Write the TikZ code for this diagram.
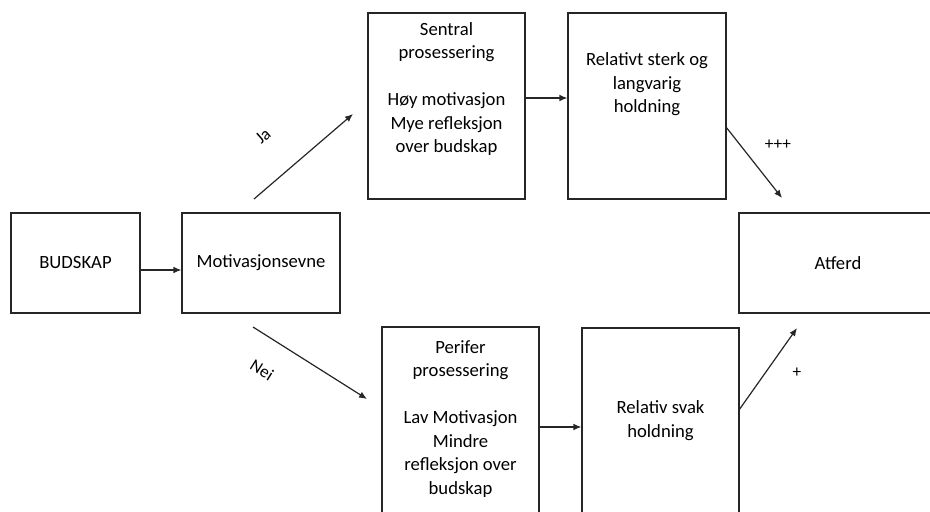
\documentclass[tikz,border=0pt]{standalone}
\usepackage{fontspec}
\setmainfont{Carlito}
\usetikzlibrary{arrows.meta}
\tikzset{
  box/.style={draw=black!85, line width=0.9pt, fill=none, inner sep=0pt},
  txt/.style={align=center, inner sep=0pt, font=\fontsize{14}{17.6}\selectfont},
  lbl/.style={inner sep=0pt, font=\fontsize{13}{15}\selectfont},
  arr/.style={draw=black!85, line width=0.9pt, -{Latex[length=6pt,width=5pt]}},
}

\begin{document}
\begin{tikzpicture}[x=0.75pt, y=-0.75pt]
\useasboundingbox (0,0) rectangle (930,511);
\clip (0,0) rectangle (930,511);
% boxes
\node[box, minimum width=96.75pt, minimum height=75pt] (budskap) at (75.5,263) {};
\node[txt] (budskaptxt) at (75.5,263) {BUDSKAP};
\node[box, minimum width=118.5pt, minimum height=75pt] (motiv) at (261,263) {};
\node[txt] (motivtxt) at (261,263) {Motivasjonsevne};
\node[box, minimum width=117.75pt, minimum height=139.5pt] (sentral) at (446.5,106) {};
\node[txt] (sentraltxt) at (446.5,89) {Sentral\\prosessering\\[17.6pt]H\o y motivasjon\\Mye refleksjon\\over budskap};
\node[box, minimum width=118.5pt, minimum height=139.5pt] (sterk) at (647,106) {};
\node[txt] (sterktxt) at (647,84.5) {Relativt sterk og\\langvarig\\holdning};
\node[box, minimum width=148.5pt, minimum height=75pt] (atferd) at (838,263) {};
\node[txt] (atferdtxt) at (838,263) {Atferd};
\node[box, minimum width=117.75pt, minimum height=150pt] (perifer) at (460.5,427) {};
\node[txt] (perifertxt) at (460.5,419) {Perifer\\prosessering\\[17.6pt]Lav Motivasjon\\Mindre\\refleksjon over\\budskap};
\node[box, minimum width=117.75pt, minimum height=150pt] (svak) at (660.5,428) {};
\node[txt] (svaktxt) at (660.5,420.5) {Relativ svak\\holdning};

% free ends of the slanted arrows
\coordinate (jaA) at (254,199);
\coordinate (jaB) at (353,114);
\coordinate (neiA) at (253,327);
\coordinate (neiB) at (367,399);
\coordinate (sterkA) at (726,127);
\coordinate (sterkB) at (782,198);
\coordinate (svakA) at (739,410);
\coordinate (svakB) at (797,328);

% arrows
\draw[arr] ([yshift=-5.25pt]budskap.east) -- ([yshift=-5.25pt]motiv.west);
\draw[arr] ([yshift=6pt]sentral.east) -- ([yshift=6pt]sterk.west);
\draw[arr] (perifer.east) -- (perifer.east -| svak.west);
\draw[arr] (jaA) -- (jaB);
\draw[arr] (neiA) -- (neiB);
\draw[arr] (sterkA) -- (sterkB);
\draw[arr] (svakA) -- (svakB);

% labels
\node[lbl, rotate=41] (ja) at (263,136) {Ja};
\node[lbl, rotate=-32] (nei) at (262,370) {Nei};
\node[lbl] (ppp) at (778,145) {+++};
\node[lbl] (p) at (797,373) {+};
\end{tikzpicture}
\end{document}
